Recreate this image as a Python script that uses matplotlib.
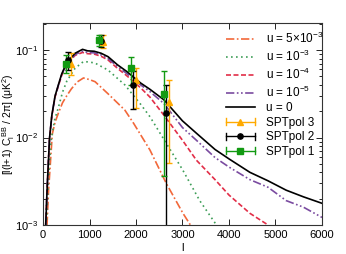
import matplotlib
matplotlib.use("Agg")
import matplotlib.pyplot as plt
from matplotlib.lines import Line2D
from matplotlib.legend_handler import HandlerBase
from matplotlib.ticker import LogLocator, FixedLocator, NullFormatter

plt.rcParams['font.family'] = ['Liberation Sans', 'DejaVu Sans']
plt.rcParams['mathtext.fontset'] = 'custom'
plt.rcParams['mathtext.rm'] = 'Liberation Sans'
plt.rcParams['mathtext.it'] = 'Liberation Sans:italic'

# ---------------- data ----------------
l_u0 = [58, 90, 140, 190, 260, 330, 400, 510, 690, 850, 960, 1100, 1250, 1400, 1600, 1800,
        2100, 2300, 2600, 3000, 3300, 3700, 4000, 4450, 4840, 5230, 5600, 6000]
c_u0 = [0.001, 0.0027, 0.0098, 0.018, 0.030, 0.040, 0.053, 0.072, 0.092, 0.102, 0.098, 0.097,
        0.092, 0.084, 0.068, 0.057, 0.042, 0.0356, 0.027, 0.0155, 0.0112, 0.0073, 0.0057,
        0.0040, 0.0032, 0.0025, 0.0021, 0.00177]

l_u5 = [58, 90, 140, 190, 260, 330, 400, 510, 690, 850, 960, 1100, 1250, 1400, 1600, 1800,
        2100, 2300, 2600, 3000, 3300, 3700, 4000, 4450, 4840, 5230, 5600, 6000]
c_u5 = [0.001, 0.0027, 0.0097, 0.0178, 0.0296, 0.0394, 0.052, 0.070, 0.089, 0.097, 0.094, 0.093,
        0.088, 0.080, 0.065, 0.054, 0.040, 0.0335, 0.0245, 0.0130, 0.0093, 0.0059, 0.0046,
        0.0033, 0.0027, 0.0019, 0.0016, 0.00122]

l_u4 = [58, 90, 140, 190, 260, 330, 400, 510, 690, 850, 960, 1100, 1250, 1400, 1600, 1800,
        2100, 2300, 2600, 3000, 3300, 3700, 4000, 4450, 4840]
c_u4 = [0.001, 0.0027, 0.0096, 0.0176, 0.0292, 0.0388, 0.051, 0.069, 0.087, 0.094, 0.091, 0.090,
        0.085, 0.077, 0.062, 0.051, 0.037, 0.029, 0.018, 0.0093, 0.0055, 0.0033, 0.0022,
        0.00136, 0.001]

l_u3 = [70, 110, 170, 250, 330, 420, 510, 690, 870, 1000, 1120, 1400, 1760, 2100, 2300, 2700,
        3000, 3370, 3730]
c_u3 = [0.001, 0.0027, 0.009, 0.016, 0.022, 0.033, 0.044, 0.062, 0.074, 0.073, 0.071, 0.059,
        0.040, 0.024, 0.0173, 0.0078, 0.0043, 0.0019, 0.001]

l_u53 = [86, 120, 200, 260, 330, 420, 510, 610, 730, 870, 1000, 1120, 1400, 1760, 1950, 2300,
         2650, 3010, 3170]
c_u53 = [0.001, 0.0025, 0.011, 0.015, 0.019, 0.025, 0.030, 0.036, 0.043, 0.048, 0.046, 0.0435,
         0.0316, 0.0206, 0.0145, 0.0072, 0.0030, 0.00136, 0.001]

spt1_l = [490, 1205, 1890, 2596]
spt1_v = [0.069, 0.130, 0.062, 0.0312]
spt1_lo = [0.015, 0.020, 0.022, 0.0276]
spt1_hi = [0.018, 0.020, 0.022, 0.026]

spt2_l = [546, 1250, 1944, 2653]
spt2_v = [0.077, 0.127, 0.040, 0.0189]
spt2_lo = [0.018, 0.019, 0.019, 0.030]
spt2_hi = [0.017, 0.020, 0.018, 0.021]

spt3_l = [602, 1300, 1994, 2703]
spt3_v = [0.070, 0.124, 0.046, 0.0257]
spt3_lo = [0.018, 0.019, 0.024, 0.0206]
spt3_hi = [0.022, 0.024, 0.016, 0.020]

labels_u = [r'u = 5$\times$10$^{-3}$', r'u = 10$^{-3}$', r'u = 10$^{-4}$', r'u = 10$^{-5}$', 'u = 0']
labels_spt = ['SPTpol 3', 'SPTpol 2', 'SPTpol 1']

# ---------------- colours ----------------
c_or = '#F2683A'
c_gr = '#3E9E58'
c_rd = '#E22E48'
c_pu = '#7A4BA0'
c_k = 'black'
c_s3 = '#FFAA00'
c_s1 = '#129A12'

fig = plt.figure(figsize=(3.46, 2.54), dpi=100)
ax = fig.add_axes([0.1243, 0.1142, 0.8063, 0.7952])

lw = 1.2
ax.plot(l_u53, c_u53, color=c_or, lw=lw, ls=(0, (5, 1.5, 1, 1.5)))
ax.plot(l_u3, c_u3, color=c_gr, lw=lw, ls=(0, (1, 2)))
ax.plot(l_u4, c_u4, color=c_rd, lw=lw, ls=(0, (3, 1.5)))
ax.plot(l_u5, c_u5, color=c_pu, lw=lw, ls=(0, (5, 1.5, 1, 1.5, 1, 1.5)))
ax.plot(l_u0, c_u0, color=c_k, lw=lw, ls='-')

ekw = dict(lw=1.0, capsize=2, capthick=1.0, ms=3.8)
ax.errorbar(spt3_l, spt3_v, yerr=[spt3_lo, spt3_hi], fmt='^', color=c_s3, **ekw)
ax.errorbar(spt2_l, spt2_v, yerr=[spt2_lo, spt2_hi], fmt='o', color=c_k, **ekw)
ax.errorbar(spt1_l, spt1_v, yerr=[spt1_lo, spt1_hi], fmt='s', color=c_s1, **ekw)

ax.set_yscale('log')
ax.set_xlim(0, 6000)
ax.set_ylim(1e-3, 0.204)
ax.xaxis.set_major_locator(FixedLocator([0, 1000, 2000, 3000, 4000, 5000, 6000]))
ax.yaxis.set_major_locator(LogLocator(base=10, numticks=10))
ax.yaxis.set_minor_locator(LogLocator(base=10, subs=range(2, 10), numticks=10))
ax.yaxis.set_minor_formatter(NullFormatter())
ax.tick_params(which='both', direction='in', top=True, right=True, labelsize=8, width=0.6)
ax.tick_params(which='major', length=4)
ax.tick_params(which='minor', length=2)
for s in ax.spines.values():
    s.set_linewidth(0.8)
    s.set_color('#333333')

ax.set_xlabel('l', fontsize=8, labelpad=2)
ax.set_ylabel(r'[l(l+1) C$_\mathrm{l}^\mathrm{\ BB}$ / 2π] (μK$^2$)', fontsize=7.5)
ax.yaxis.set_label_coords(-0.092, 0.5)


class HErr(HandlerBase):
    def create_artists(self, legend, orig, xd, yd, w, h, fontsize, trans):
        y = h / 2.0 - yd
        x0 = -xd
        c = orig.get_color()
        line = Line2D([x0, x0 + w], [y, y], color=c, lw=1.0)
        cap1 = Line2D([x0, x0], [y - 2.5, y + 2.5], color=c, lw=1.0)
        cap2 = Line2D([x0 + w, x0 + w], [y - 2.5, y + 2.5], color=c, lw=1.0)
        mk = Line2D([x0 + w / 2], [y], marker=orig.get_marker(), color=c, ms=3.8, ls='none')
        arts = [line, cap1, cap2, mk]
        for a in arts:
            a.set_transform(trans)
        return arts


h_lines = [
    Line2D([], [], color=c_or, lw=lw, ls=(0, (5, 1.5, 1, 1.5))),
    Line2D([], [], color=c_gr, lw=lw, ls=(0, (1, 2))),
    Line2D([], [], color=c_rd, lw=lw, ls=(0, (3, 1.5))),
    Line2D([], [], color=c_pu, lw=lw, ls=(0, (5, 1.5, 1, 1.5, 1, 1.5))),
    Line2D([], [], color=c_k, lw=lw),
]
h_spt = [
    Line2D([], [], color=c_s3, marker='^'),
    Line2D([], [], color=c_k, marker='o'),
    Line2D([], [], color=c_s1, marker='s'),
]
hmap = {h: HErr() for h in h_spt}
leg = ax.legend(h_lines + h_spt, labels_u + labels_spt, handler_map=hmap,
                loc='upper left', bbox_to_anchor=(0.655, 0.96), frameon=False,
                fontsize=8.5, handlelength=2.5, handletextpad=0.9, labelspacing=0.22,
                borderpad=0, borderaxespad=0)

fig.savefig('out.png', dpi=100)
